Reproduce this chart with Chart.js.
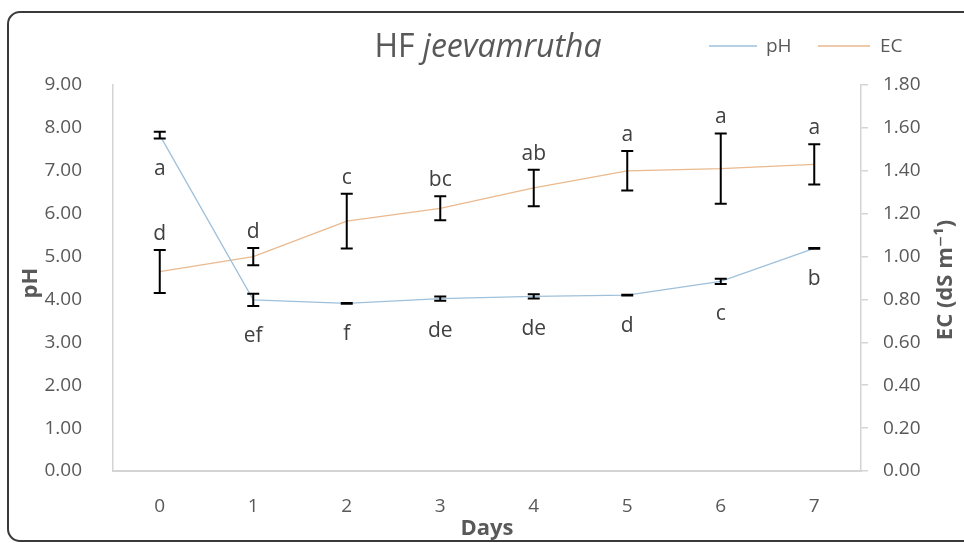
<!DOCTYPE html>
<html>
<head>
<meta charset="utf-8">
<script src="https://cdn.jsdelivr.net/npm/chart.js@4/dist/chart.umd.min.js"></script>
<style>
  html, body { margin: 0; padding: 0; background: #ffffff; width: 964px; height: 543px; overflow: hidden; }
  .frame { position: absolute; left: 7px; top: 11px; width: 1010px; height: 527px;
           border: 2px solid #3a3a3a; border-radius: 13px; box-sizing: content-box; }
  #c { position: absolute; left: 0; top: 0; }
</style>
</head>
<body>
<div class="frame"></div>
<canvas id="c" width="964" height="543"></canvas>
<script>
// ---- data ----
const days = ['0', '1', '2', '3', '4', '5', '6', '7'];
const phMean = [7.83, 3.99, 3.91, 4.02, 4.07, 4.10, 4.42, 5.19];
const phErr  = [0.08, 0.14, 0.01, 0.05, 0.05, 0.01, 0.06, 0.01];
const ecMean = [0.93, 1.00, 1.165, 1.225, 1.32, 1.40, 1.41, 1.43];
const ecErr  = [0.10, 0.04, 0.128, 0.056, 0.085, 0.092, 0.164, 0.094];
const phLetters = ['a', 'ef', 'f', 'de', 'de', 'd', 'c', 'b'];
const ecLetters = ['d', 'd', 'c', 'bc', 'ab', 'a', 'a', 'a'];
const phAxis = { min: 0, max: 9, step: 1 };
const ecAxis = { min: 0, max: 1.8, step: 0.2 };
const titleMain = 'HF ';
const titleItalic = 'jeevamrutha';
const xTitle = 'Days';
const yTitle = 'pH';
const y1Title = 'EC (dS m\u207B\u00B9)';
const seriesNames = ['pH', 'EC'];

const FONT = "'Open Sans', 'DejaVu Sans', sans-serif";
const GRAY = '#595959';
const AXIS = '#d4d4d4';
const PH_COLOR = '#9fc0da';
const EC_COLOR = '#eab98e';

const overlay = {
  id: 'overlay',
  afterDatasetsDraw(chart) {
    const ctx = chart.ctx;
    const xs = chart.scales.x, ys = chart.scales.y, y1s = chart.scales.y1;
    ctx.save();
    ctx.strokeStyle = '#000000';
    ctx.lineWidth = 2;
    const cap = 6;
    function bar(px, top, bot) {
      ctx.beginPath();
      ctx.moveTo(px, top); ctx.lineTo(px, bot);
      ctx.moveTo(px - cap, top); ctx.lineTo(px + cap, top);
      ctx.moveTo(px - cap, bot); ctx.lineTo(px + cap, bot);
      ctx.stroke();
    }
    days.forEach((d, i) => {
      const px = xs.getPixelForValue(i);
      bar(px, ys.getPixelForValue(phMean[i] + phErr[i]), ys.getPixelForValue(phMean[i] - phErr[i]));
      bar(px, y1s.getPixelForValue(ecMean[i] + ecErr[i]), y1s.getPixelForValue(ecMean[i] - ecErr[i]));
    });
    ctx.fillStyle = '#404040';
    ctx.font = '21px ' + FONT;
    ctx.textAlign = 'center';
    ctx.textBaseline = 'middle';
    days.forEach((d, i) => {
      const px = xs.getPixelForValue(i);
      ctx.fillText(phLetters[i], px, ys.getPixelForValue(phMean[i] - phErr[i]) + 30);
      ctx.fillText(ecLetters[i], px, y1s.getPixelForValue(ecMean[i] + ecErr[i]) - 16);
    });
    ctx.restore();
  },
  afterDraw(chart) {
    const ctx = chart.ctx;
    const ca = chart.chartArea;
    ctx.save();
    // title
    ctx.fillStyle = GRAY;
    ctx.textBaseline = 'alphabetic';
    ctx.textAlign = 'left';
    ctx.font = '32px ' + FONT;
    const w1 = ctx.measureText(titleMain).width;
    ctx.font = 'italic 32px ' + FONT;
    const w2 = ctx.measureText(titleItalic).width;
    let tx = 488 - (w1 + w2) / 2;
    ctx.font = '32px ' + FONT;
    ctx.fillText(titleMain, tx, 57);
    ctx.font = 'italic 32px ' + FONT;
    ctx.fillText(titleItalic, tx + w1, 57);
    // legend
    ctx.lineWidth = 1.5;
    ctx.font = '19px ' + FONT;
    ctx.textBaseline = 'middle';
    ctx.strokeStyle = PH_COLOR;
    ctx.beginPath(); ctx.moveTo(709, 46); ctx.lineTo(757, 46); ctx.stroke();
    ctx.fillText(seriesNames[0], 766, 47);
    ctx.strokeStyle = EC_COLOR;
    ctx.beginPath(); ctx.moveTo(818, 46); ctx.lineTo(870, 46); ctx.stroke();
    ctx.fillText(seriesNames[1], 880, 47);
    // axis titles
    ctx.font = 'bold 22px ' + FONT;
    ctx.textAlign = 'center';
    ctx.textBaseline = 'middle';
    ctx.fillText(xTitle, (ca.left + ca.right) / 2, 529);
    ctx.translate(31, 283);
    ctx.rotate(-Math.PI / 2);
    ctx.fillText(yTitle, 0, 0);
    ctx.setTransform(1, 0, 0, 1, 0, 0);
    ctx.translate(946, 280);
    ctx.rotate(-Math.PI / 2);
    ctx.fillText(y1Title, 0, 0);
    ctx.restore();
  }
};

new Chart(document.getElementById('c'), {
  type: 'line',
  data: {
    labels: days,
    datasets: [
      { label: seriesNames[0], data: phMean, yAxisID: 'y', borderColor: PH_COLOR, borderWidth: 1.3,
        pointRadius: 0, tension: 0, fill: false },
      { label: seriesNames[1], data: ecMean, yAxisID: 'y1', borderColor: EC_COLOR, borderWidth: 1.3,
        pointRadius: 0, tension: 0, fill: false }
    ]
  },
  options: {
    responsive: false,
    animation: false,
    devicePixelRatio: 1,
    layout: { padding: { top: 85, left: 0, right: 0, bottom: 0 } },
    plugins: { legend: { display: false }, title: { display: false }, tooltip: { enabled: false } },
    scales: {
      x: {
        type: 'category',
        offset: true,
        grid: { display: false },
        border: { display: true, color: AXIS, width: 2 },
        ticks: { color: GRAY, font: { family: FONT, size: 19 }, padding: 16, maxRotation: 0 },
        afterFit(s) { s.height = 72; }
      },
      y: {
        position: 'left',
        min: phAxis.min, max: phAxis.max,
        grid: { display: false },
        border: { display: true, color: AXIS, width: 1.5 },
        ticks: { stepSize: phAxis.step, color: GRAY, font: { family: FONT, size: 19 }, padding: 23,
                 callback: v => Number(v).toFixed(2) },
        afterFit(s) { s.width = 113; }
      },
      y1: {
        position: 'right',
        min: ecAxis.min, max: ecAxis.max,
        grid: { display: true, drawOnChartArea: false, drawTicks: true, tickLength: 7, color: AXIS, lineWidth: 1.5 },
        border: { display: true, color: AXIS, width: 1.5 },
        ticks: { stepSize: ecAxis.step, color: GRAY, font: { family: FONT, size: 19 }, padding: 15,
                 callback: v => Number(v).toFixed(2) },
        afterFit(s) { s.width = 103; }
      }
    }
  },
  plugins: [overlay]
});
</script>
</body>
</html>
